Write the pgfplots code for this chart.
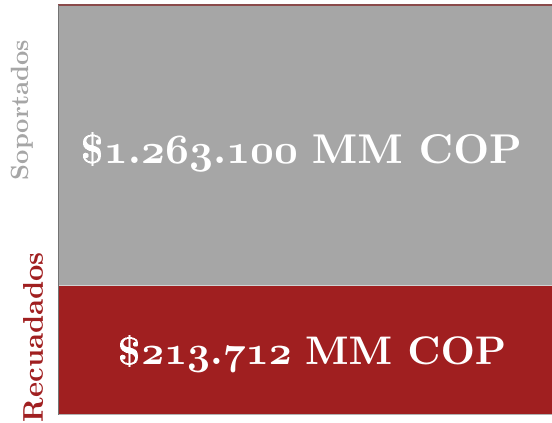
\documentclass[border=0pt]{standalone}
\usepackage{graphicx}
\usepackage{pgfplots}
\pgfplotsset{compat=1.18}
\definecolor{grisbar}{HTML}{A6A6A6}
\definecolor{rojobar}{HTML}{A01F20}
\definecolor{bordetop}{HTML}{8A4A4A}
\newcommand{\osn}[1]{{\usefont{OML}{cmm}{b}{it}#1}}
\newcommand{\bt}[1]{{\usefont{OT1}{cmr}{bx}{n}#1}}
\begin{document}
\begin{tikzpicture}
\path[use as bounding box] (0,0) rectangle (552pt,423pt);
\begin{axis}[at={(58pt,8pt)},anchor=south west,
  width=494pt,height=410pt,scale only axis,
  ybar stacked,bar width=494pt,
  xmin=-0.5,xmax=0.5,ymin=0,ymax=100,
  axis line style={draw=none},ticks=none,clip=false]
\addplot[fill=rojobar,draw=none] coordinates {(0,31.5)};
\addplot[fill=grisbar,draw=none] coordinates {(0,68.5)};
\coordinate (bl) at (axis cs:-0.5,0);
\coordinate (br) at (axis cs:0.5,0);
\coordinate (ml) at (axis cs:-0.5,31.5);
\coordinate (mr) at (axis cs:0.5,31.5);
\coordinate (tl) at (axis cs:-0.5,100);
\coordinate (tr) at (axis cs:0.5,100);
\coordinate (rlab) at (axis cs:0.015,15.0);
\coordinate (glab) at (axis cs:-0.008,64.2);
\end{axis}
\draw[gray!60,line width=1pt] (bl) -- (br);
\draw[gray!35,line width=1pt] (ml) -- (mr);
\draw[bordetop,line width=1.2pt] (tl) -- (tr);
\draw[black!55,line width=0.8pt] (bl) -- (tl);
\node[white,inner sep=0pt] at (rlab) {\resizebox{388pt}{!}{\bt{\$}\osn{213}\bt{.}\osn{712} \bt{MM COP}}};
\node[white,inner sep=0pt] at (glab) {\resizebox{442pt}{!}{\bt{\$}\osn{1}\bt{.}\osn{263}\bt{.}\osn{100} \bt{MM COP}}};
\node[rotate=90,grisbar,inner sep=0pt] at (22pt,313pt) {\resizebox{140pt}{!}{\bt{Soportados}}};
\node[rotate=90,rojobar,inner sep=0pt] at (33pt,86pt) {\resizebox{170pt}{!}{\bt{Recuadados}}};
\end{tikzpicture}
\end{document}
